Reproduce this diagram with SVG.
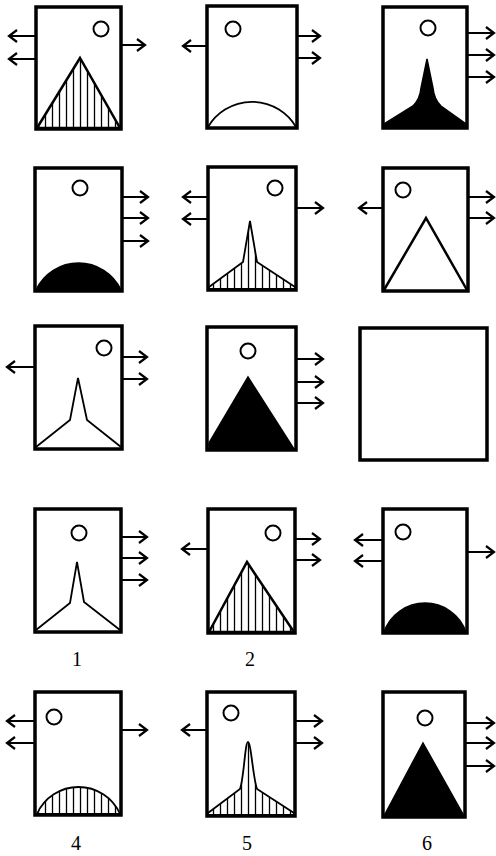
<svg xmlns="http://www.w3.org/2000/svg" width="496" height="856" viewBox="0 0 496 856">
<style>
.box{fill:#fff;stroke:#000;stroke-width:3.5}
.dot{fill:none;stroke:#000;stroke-width:2}
.ol{fill:none;stroke:#000;stroke-width:2.5;stroke-linejoin:miter}
.thin{fill:none;stroke:#000;stroke-width:1.8}
.blk{fill:#000;stroke:#000;stroke-width:1.5}
.hat{fill:url(#hatch);stroke:#000;stroke-width:2.5}
.hat2{fill:url(#hatch);stroke:#000;stroke-width:1.8}
.arr{fill:none;stroke:#000;stroke-width:2;marker-end:url(#ah)}
.lbl{font-family:"Liberation Serif","Times New Roman",serif;font-size:20px;text-anchor:middle;fill:#000}
</style>
<defs>
<pattern id="hatch" patternUnits="userSpaceOnUse" width="7" height="10">
<line x1="3.5" y1="0" x2="3.5" y2="10" stroke="#000" stroke-width="1.3"/>
</pattern>
<marker id="ah" markerUnits="userSpaceOnUse" markerWidth="12" markerHeight="14" refX="10" refY="7" orient="auto" overflow="visible">
<path d="M2,1 L10,7 L2,13" fill="none" stroke="#000" stroke-width="2.2"/>
</marker>
</defs>
<rect width="496" height="856" fill="#fff"/>

<g id="n1">
<rect class="box" x="36" y="7" width="85" height="122"/>
<circle class="dot" cx="101" cy="29" r="7.5"/>
<path class="hat" d="M37,128 L80,58 L120,128 Z"/>
</g>
<g id="n2">
<rect class="box" x="207" y="6" width="90" height="122"/>
<circle class="dot" cx="233" cy="29" r="7.5"/>
<path class="thin" d="M208,127 A51 51 0 0 1 296,127"/>
</g>
<g id="n3">
<rect class="box" x="383" y="7" width="84" height="121"/>
<circle class="dot" cx="428" cy="28" r="7.5"/>
<path class="blk" d="M384,127 L384,124 L413,106 Q420,99 421,88 L427,59 L433,88 Q434,99 441,106 L466,124 L466,127 Z"/>
</g>

<g id="n4">
<rect class="box" x="35" y="168" width="87" height="123"/>
<circle class="dot" cx="80" cy="188" r="7.5"/>
<path class="blk" d="M36,290 A47 47 0 0 1 121,290 Z"/>
</g>
<g id="n5">
<rect class="box" x="208" y="167" width="88" height="123"/>
<circle class="dot" cx="275" cy="188" r="7.5"/>
<path class="hat2" d="M209,287 L243,262 L250,221 L257,262 L295,287 L295,289 L209,289 Z"/>
</g>
<g id="n6">
<rect class="box" x="383" y="168" width="85" height="123"/>
<circle class="dot" cx="403" cy="190" r="7.5"/>
<path class="ol" d="M384,290 L426,218 L467,290"/>
</g>

<g id="n7">
<rect class="box" x="35" y="326" width="87" height="123"/>
<circle class="dot" cx="104" cy="348" r="7.5"/>
<path class="thin" d="M36,447 L70,420 L78,378 L87,420 L121,447"/>
</g>
<g id="n8">
<rect class="box" x="207" y="327" width="89" height="123"/>
<circle class="dot" cx="248" cy="351" r="7.5"/>
<path class="blk" d="M209,449 L209,443 L248,377 L294,449 Z"/>
</g>
<g id="n9">
<rect class="box" x="360" y="328" width="127" height="132"/>
</g>

<g id="n10">
<rect class="box" x="35" y="509" width="86" height="123"/>
<circle class="dot" cx="79" cy="533" r="7.5"/>
<path class="thin" d="M36,630 L70,603 L77,562 L84,602 L120,630"/>
<text class="lbl" x="77" y="666">1</text>
</g>
<g id="n11">
<rect class="box" x="208" y="509" width="87" height="124"/>
<circle class="dot" cx="273" cy="533" r="7.5"/>
<path class="hat" d="M209,632 L247,562 L294,632 Z"/>
<text class="lbl" x="250" y="666">2</text>
</g>
<g id="n12">
<rect class="box" x="383" y="509" width="84" height="124"/>
<circle class="dot" cx="403" cy="532" r="7.5"/>
<path class="blk" d="M384,632 A43.5 43.5 0 0 1 466,632 Z"/>
</g>

<g id="n13">
<rect class="box" x="35" y="692" width="86" height="123"/>
<circle class="dot" cx="54" cy="717" r="7.5"/>
<path class="hat2" d="M37,814 A45.4 45.4 0 0 1 120,814 Z"/>
<text class="lbl" x="76" y="850">4</text>
</g>
<g id="n14">
<rect class="box" x="207" y="692" width="88" height="124"/>
<circle class="dot" cx="231" cy="713" r="7.5"/>
<path class="hat2" d="M208,813 L240,789 C244,778 245,742 248,742 C251,742 253,778 257,789 L294,813 L294,815 L208,815 Z"/>
<text class="lbl" x="247" y="850">5</text>
</g>
<g id="n15">
<rect class="box" x="383" y="692" width="82" height="125"/>
<circle class="dot" cx="425" cy="718" r="7.5"/>
<path class="blk" d="M384,816 L423,743 L464,816 Z"/>
<text class="lbl" x="427" y="850">6</text>
</g>

<g id="connectors">
<line class="arr" x1="36" y1="36" x2="9" y2="36"/>
<line class="arr" x1="36" y1="59" x2="9" y2="59"/>
<line class="arr" x1="121" y1="45" x2="145" y2="45"/>
<line class="arr" x1="207" y1="46" x2="183" y2="46"/>
<line class="arr" x1="297" y1="36" x2="320" y2="36"/>
<line class="arr" x1="297" y1="58" x2="320" y2="58"/>
<line class="arr" x1="467" y1="33" x2="494" y2="33"/>
<line class="arr" x1="467" y1="55" x2="494" y2="55"/>
<line class="arr" x1="467" y1="77" x2="494" y2="77"/>

<line class="arr" x1="122" y1="197" x2="148" y2="197"/>
<line class="arr" x1="122" y1="218" x2="148" y2="218"/>
<line class="arr" x1="122" y1="241" x2="148" y2="241"/>
<line class="arr" x1="208" y1="197" x2="183" y2="197"/>
<line class="arr" x1="208" y1="219" x2="183" y2="219"/>
<line class="arr" x1="296" y1="208" x2="323" y2="208"/>
<line class="arr" x1="383" y1="208" x2="359" y2="208"/>
<line class="arr" x1="468" y1="197" x2="494" y2="197"/>
<line class="arr" x1="468" y1="218" x2="494" y2="218"/>

<line class="arr" x1="35" y1="367" x2="7" y2="367"/>
<line class="arr" x1="122" y1="357" x2="147" y2="357"/>
<line class="arr" x1="122" y1="379" x2="147" y2="379"/>
<line class="arr" x1="296" y1="359" x2="323" y2="359"/>
<line class="arr" x1="296" y1="382" x2="323" y2="382"/>
<line class="arr" x1="296" y1="403" x2="323" y2="403"/>

<line class="arr" x1="121" y1="537" x2="147" y2="537"/>
<line class="arr" x1="121" y1="558" x2="147" y2="558"/>
<line class="arr" x1="121" y1="580" x2="147" y2="580"/>
<line class="arr" x1="208" y1="549" x2="182" y2="549"/>
<line class="arr" x1="295" y1="539" x2="320" y2="539"/>
<line class="arr" x1="295" y1="560" x2="320" y2="560"/>
<line class="arr" x1="383" y1="540" x2="355" y2="540"/>
<line class="arr" x1="383" y1="561" x2="355" y2="561"/>
<line class="arr" x1="467" y1="552" x2="494" y2="552"/>

<line class="arr" x1="35" y1="721" x2="7" y2="721"/>
<line class="arr" x1="35" y1="743" x2="7" y2="743"/>
<line class="arr" x1="121" y1="730" x2="147" y2="730"/>
<line class="arr" x1="207" y1="730" x2="182" y2="730"/>
<line class="arr" x1="295" y1="721" x2="322" y2="721"/>
<line class="arr" x1="295" y1="743" x2="322" y2="743"/>
<line class="arr" x1="465" y1="723" x2="494" y2="723"/>
<line class="arr" x1="465" y1="743" x2="494" y2="743"/>
<line class="arr" x1="465" y1="766" x2="494" y2="766"/>
</g>
</svg>
